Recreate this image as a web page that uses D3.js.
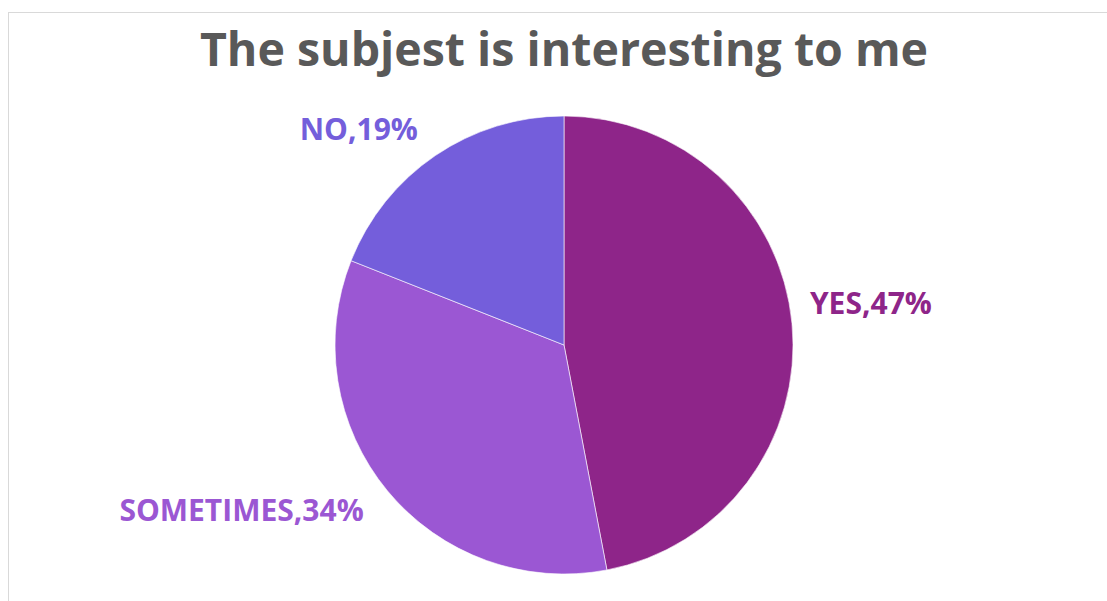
<!DOCTYPE html>
<html>
<head>
<meta charset="utf-8">
<script src="https://cdn.jsdelivr.net/npm/d3@7"></script>
<style>
  html, body { margin:0; padding:0; background:#fff; }
  svg { display:block; }
</style>
</head>
<body>
<div id="chart"></div>
<script>
// pie — "The subjest is interesting to me"
const categories = ["YES", "SOMETIMES", "NO"];
const values     = [47, 34, 19];
const colors     = ["#8e2589", "#9b57d3", "#745edb"];

const totalW = 1107, totalH = 601;
const cx = 564, cy = 345, R = 229;
const font = "'Open Sans', Lato, sans-serif";

const svg = d3.select("#chart").append("svg").attr("width", totalW).attr("height", totalH);

// chart frame
svg.append("rect").attr("x", 8.5).attr("y", 12.5).attr("width", 1120).attr("height", 620)
    .attr("fill", "#fff").attr("stroke", "#d9d9d9").attr("stroke-width", 1);

svg.append("text").attr("x", cx).attr("y", 66).attr("text-anchor", "middle")
    .attr("fill", "#595959").style("font-family", font)
    .style("font-weight", "bold").style("font-size", "46.5px")
    .text("The subjest is interesting to me");

const data = categories.map((c, i) => ({ cat: c, value: values[i], color: colors[i] }));
const pie = d3.pie().value(d => d.value).sort(null);
const arc = d3.arc().innerRadius(0).outerRadius(R);
const g = svg.append("g").attr("transform", `translate(${cx},${cy})`);

const arcs = pie(data);
g.selectAll("path").data(arcs).enter().append("path")
    .attr("d", arc).attr("fill", d => d.data.color)
    .attr("stroke", "#fff").attr("stroke-width", 0.6);

arcs.forEach(d => {
    const a = (d.startAngle + d.endAngle) / 2;
    const right = Math.sin(a) > 0;
    const lr = right ? 247 : 260;
    const x = Math.sin(a) * lr, y = -Math.cos(a) * lr;
    g.append("text").attr("x", x).attr("y", right ? y - 18 : y)
        .attr("dy", "0.35em").attr("text-anchor", right ? "start" : "end")
        .attr("fill", d.data.color).style("font-family", font)
        .style("font-weight", "bold").style("font-size", "30px")
        .text(`${d.data.cat},${d.data.value}%`);
});
</script>
</body>
</html>
